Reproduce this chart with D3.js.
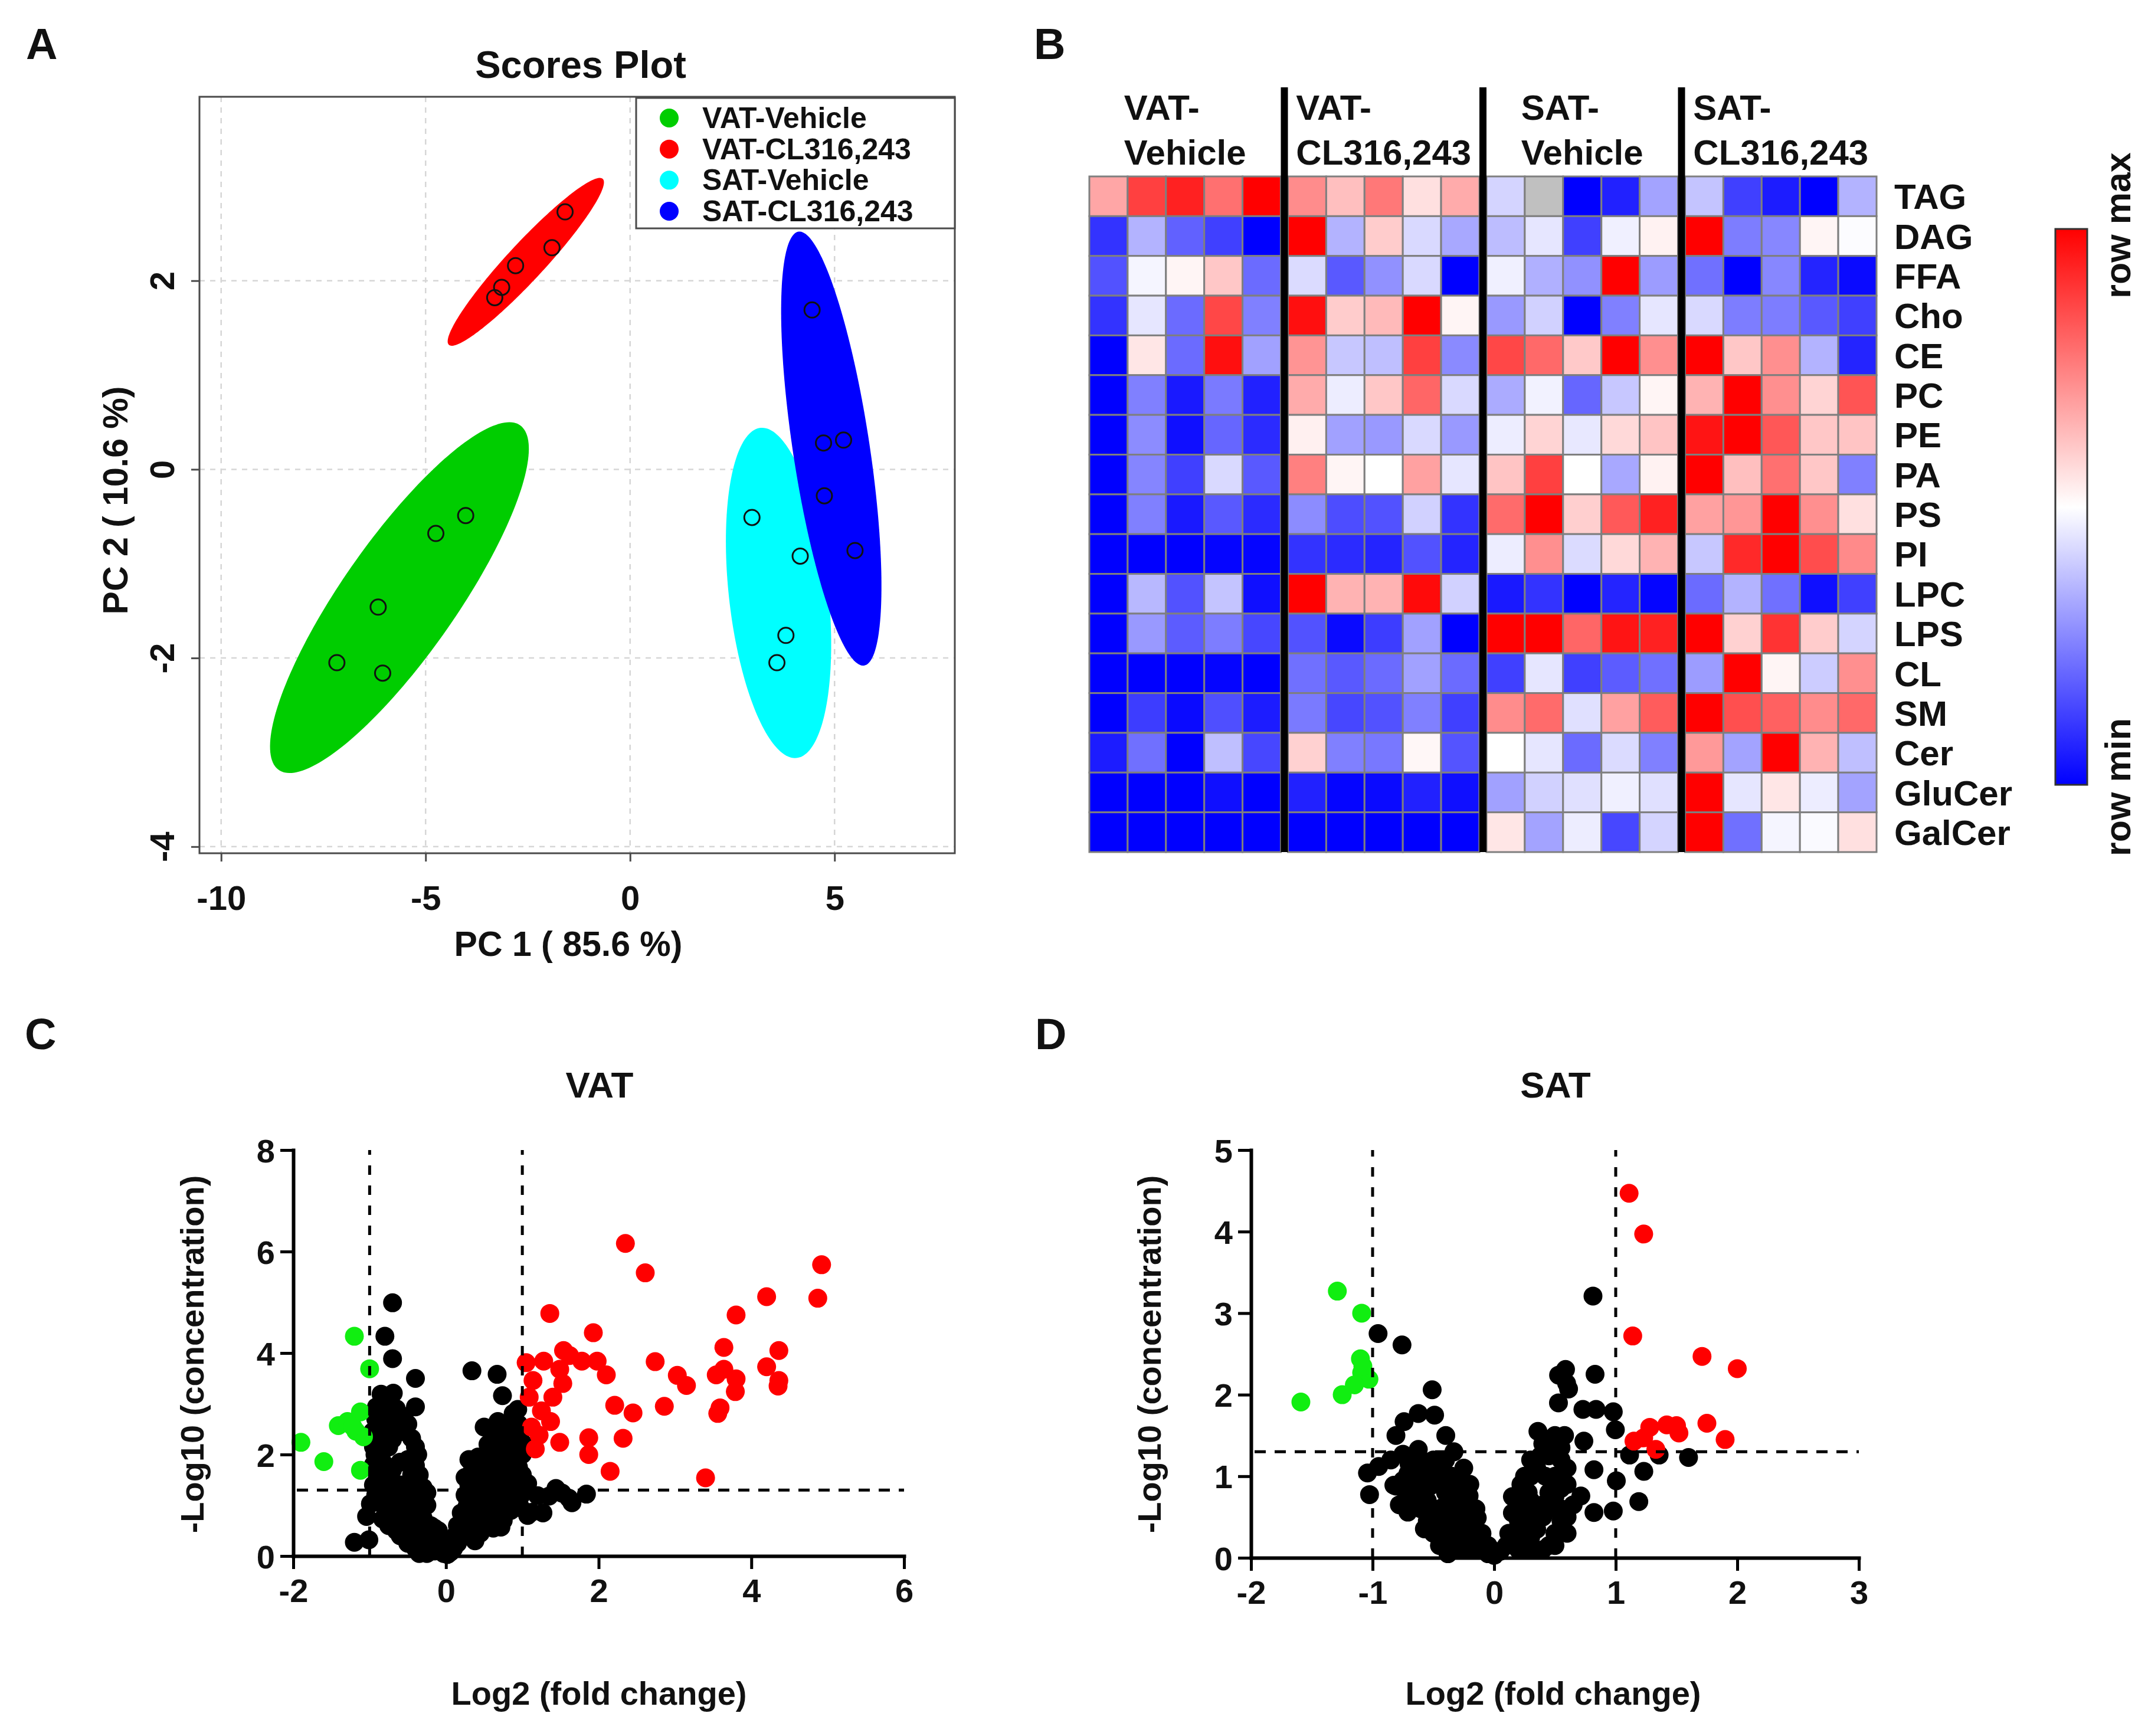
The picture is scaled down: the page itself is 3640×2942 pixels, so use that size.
<!DOCTYPE html>
<html>
<head>
<meta charset="utf-8">
<script src="https://cdn.jsdelivr.net/npm/d3@7"></script>
<style>
body { margin: 0; background: #fff; }
text { font-family: "Liberation Sans", Arial, sans-serif; font-weight: bold; fill: #111; }
.narrow { font-family: "Liberation Sans Narrow", "Arial Narrow", "Liberation Sans", sans-serif; }
</style>
</head>
<body>
<div id="figure"></div>
<script>
// ---- A: PCA scores ----
var pcaGroups = ["VAT-Vehicle", "VAT-CL316,243", "SAT-Vehicle", "SAT-CL316,243"];
var pcaColors = ["#00cd00", "#ff0000", "#00ffff", "#0000ff"];
// [group, PC1, PC2]
var pcaScores = [
    [0, -7.17, -2.05], [0, -6.16, -1.46], [0, -6.05, -2.16], [0, -4.75, -0.68], [0, -4.02, -0.49],
    [1, -3.31, 1.82], [1, -3.14, 1.93], [1, -2.80, 2.16], [1, -1.91, 2.35], [1, -1.59, 2.73],
    [2, 2.98, -0.51], [2, 4.16, -0.92], [2, 3.81, -1.76], [2, 3.59, -2.05],
    [3, 4.45, 1.69], [3, 4.73, 0.28], [3, 5.22, 0.31], [3, 4.75, -0.28], [3, 5.50, -0.86]
];
// confidence ellipses: centre, major half-axis vector, minor half-axis vector (data units)
var pcaEllipses = [
    [0, -5.64, -1.36, 2.94, 1.83, 1.17, -0.33],
    [1, -2.55, 2.20, 1.88, 0.88, 0.34, -0.13],
    [2, 3.63, -1.31, -0.44, 1.75, 1.21, 0.053],
    [3, 4.92, 0.22, -0.80, 2.30, 0.93, 0.056]
];
var pcaTicksX = [-10, -5, 0, 5];
var pcaTicksY = [2, 0, -2, -4];

// ---- B: heatmap ----
var lipidClasses = ["TAG", "DAG", "FFA", "Cho", "CE", "PC", "PE", "PA", "PS", "PI", "LPC", "LPS", "CL", "SM", "Cer", "GluCer", "GalCer"];
var groupLine1 = ["VAT-", "VAT-", "SAT-", "SAT-"];
var groupLine2 = ["Vehicle", "CL316,243", "Vehicle", "CL316,243"];
// row-scaled values, -1 = row min, 1 = row max, null = missing
var heatValues = [
    [0.35, 0.75, 0.87, 0.56, 1.0, 0.45, 0.25, 0.53, 0.12, 0.33, -0.17, null, -1, -0.87, -0.36, -0.23, -0.75, -0.89, -1, -0.3],
    [-0.8, -0.3, -0.62, -0.75, -1, 1.0, -0.3, 0.2, -0.15, -0.34, -0.26, -0.1, -0.75, -0.06, 0.05, 1.0, -0.51, -0.47, 0.04, -0.01],
    [-0.68, -0.04, 0.04, 0.22, -0.58, -0.14, -0.65, -0.43, -0.15, -1, -0.06, -0.31, -0.43, 1.0, -0.39, -0.56, -1, -0.47, -0.86, -0.96],
    [-0.8, -0.1, -0.58, 0.72, -0.5, 0.94, 0.2, 0.27, 1.0, 0.04, -0.4, -0.18, -1, -0.5, -0.1, -0.15, -0.51, -0.51, -0.65, -0.75],
    [-1, 0.1, -0.58, 0.94, -0.37, 0.42, -0.22, -0.25, 0.75, -0.46, 0.72, 0.59, 0.21, 1.0, 0.44, 1.0, 0.22, 0.44, -0.3, -0.86],
    [-1, -0.5, -0.9, -0.52, -0.87, 0.33, -0.07, 0.22, 0.6, -0.15, -0.33, -0.05, -0.6, -0.22, 0.04, 0.3, 1.0, 0.44, 0.17, 0.67],
    [-1, -0.45, -0.94, -0.6, -0.83, 0.06, -0.37, -0.4, -0.15, -0.4, -0.07, 0.17, -0.09, 0.15, 0.23, 0.92, 1.0, 0.66, 0.22, 0.23],
    [-1, -0.48, -0.75, -0.15, -0.65, 0.5, 0.04, 0, 0.37, -0.1, 0.23, 0.75, 0, -0.34, 0.05, 1.0, 0.25, 0.56, 0.22, -0.5],
    [-1, -0.5, -0.9, -0.65, -0.83, -0.45, -0.7, -0.68, -0.18, -0.8, 0.58, 1.0, 0.19, 0.65, 0.87, 0.37, 0.41, 1.0, 0.44, 0.12],
    [-1, -1, -1, -0.98, -0.98, -0.8, -0.83, -0.86, -0.68, -0.86, -0.07, 0.44, -0.14, 0.15, 0.3, -0.22, 0.84, 1.0, 0.7, 0.46],
    [-1, -0.28, -0.68, -0.23, -0.94, 1.0, 0.3, 0.3, 0.96, -0.18, -0.9, -0.8, -1, -0.86, -0.98, -0.58, -0.3, -0.56, -0.94, -0.75],
    [-1, -0.4, -0.64, -0.51, -0.72, -0.68, -0.96, -0.76, -0.37, -1, 1.0, 1.0, 0.6, 0.92, 0.87, 1.0, 0.18, 0.8, 0.2, -0.17],
    [-1, -1, -1, -0.98, -1, -0.56, -0.65, -0.58, -0.37, -0.58, -0.75, -0.1, -0.75, -0.64, -0.56, -0.39, 1.0, 0.04, -0.2, 0.44],
    [-1, -0.76, -0.96, -0.69, -0.89, -0.52, -0.72, -0.68, -0.5, -0.75, 0.45, 0.58, -0.12, 0.37, 0.64, 1.0, 0.69, 0.62, 0.45, 0.59],
    [-0.89, -0.56, -1, -0.25, -0.72, 0.18, -0.5, -0.53, 0.03, -0.67, 0, -0.1, -0.58, -0.14, -0.5, 0.4, -0.36, 1.0, 0.3, -0.25],
    [-1, -1, -1, -0.94, -1, -0.87, -0.98, -0.96, -0.87, -0.94, -0.37, -0.18, -0.12, -0.06, -0.12, 1.0, -0.1, 0.1, -0.07, -0.36],
    [-1, -1, -1, -1, -1, -1, -1, -1, -1, -1, 0.1, -0.36, -0.07, -0.72, -0.17, 1.0, -0.56, -0.04, -0.02, 0.12]
];

// ---- C: VAT volcano [log2 FC, -log10 p] ----
var vatUp = [
    [2.35, 6.16], [2.61, 5.58], [4.92, 5.74], [4.87, 5.08], [4.20, 5.11], [3.80, 4.75], [3.64, 4.11], [4.36, 4.05],
    [4.20, 3.73], [4.35, 3.35], [4.36, 3.46], [3.54, 3.57], [3.64, 3.68], [3.80, 3.49], [3.79, 3.24], [3.59, 2.92],
    [3.56, 2.81], [2.74, 3.83], [3.03, 3.56], [3.15, 3.36], [2.86, 2.95], [2.45, 2.82], [2.21, 2.97], [2.32, 2.32],
    [2.15, 1.67], [3.40, 1.54], [2.10, 3.57], [1.98, 3.84], [1.93, 4.40], [1.87, 2.33], [1.87, 2.00],
    [1.36, 4.78], [1.05, 3.81], [1.28, 3.84], [1.54, 4.05], [1.62, 3.95], [1.78, 3.84], [1.49, 3.68], [1.53, 3.40],
    [1.14, 3.46], [1.40, 3.13], [1.09, 3.13], [1.25, 2.86], [1.12, 2.54], [1.37, 2.65], [1.22, 2.38], [1.17, 2.11],
    [1.49, 2.24]
];
var vatDown = [
    [-1.20, 4.33], [-1.00, 3.69], [-1.90, 2.24], [-1.60, 1.86], [-1.12, 1.69], [-1.41, 2.57], [-1.29, 2.65],
    [-1.12, 2.84], [-1.18, 2.46], [-1.08, 2.35], [-1.22, 2.55]
];
var vatNs = [
    [-0.70, 4.99], [-0.80, 4.33], [-0.70, 3.89], [-0.40, 3.50], [0.34, 3.65], [0.67, 3.58], [0.74, 3.16],
    [-0.40, 2.94], [-0.69, 3.21], [-0.85, 3.19], [-0.91, 2.94], [-0.78, 3.05], [-0.61, 2.67], [-0.92, 2.70],
    [-0.96, 2.45], [-0.88, 2.38], [-0.70, 2.30], [-0.55, 2.45], [-0.45, 2.32], [-0.40, 2.15], [-0.37, 2.00],
    [-0.40, 1.78], [-0.50, 1.90], [-0.95, 2.15], [-0.93, 2.00], [-0.95, 1.80], [-0.80, 1.80], [-0.80, 1.62],
    [-0.72, 1.50], [-0.69, 1.40], [-0.60, 1.32], [-0.55, 1.20], [-0.99, 1.03], [-0.88, 1.08], [-1.04, 0.78],
    [-0.83, 0.73], [-0.66, 0.65], [-1.20, 0.27], [-1.01, 0.32],
    [-0.85, 2.85], [-0.75, 2.75], [-0.65, 2.90], [-0.55, 2.75], [-0.50, 2.60], [-0.65, 2.45], [-0.80, 2.55],
    [-0.75, 2.15], [-0.85, 1.95], [-0.60, 1.85], [-0.70, 1.70], [-0.90, 1.60], [-0.95, 1.40], [-0.85, 1.30],
    [-0.75, 1.20], [-0.70, 1.05], [-0.80, 0.95], [-0.70, 0.85], [-0.45, 1.60], [-0.35, 1.60], [-0.92, 1.20],
    [-0.60, 1.40], [-0.50, 1.42], [-0.40, 1.40], [-0.30, 1.35], [-0.25, 1.25], [-0.25, 1.00], [-0.60, 1.10],
    [-0.65, 0.95], [-0.55, 0.60], [-0.60, 0.40], [-0.50, 0.25], [-0.40, 0.15], [-0.30, 0.10], [-0.20, 0.60],
    [-0.10, 0.50], [-0.05, 0.30], [-0.50, 1.15], [-0.42, 1.05], [-0.35, 0.95], [-0.45, 0.80], [-0.55, 0.90],
    [-0.30, 0.75], [-0.27, 0.62], [-0.40, 0.55], [-0.50, 0.50], [-0.35, 0.40], [-0.20, 0.45], [-0.18, 0.35],
    [-0.25, 0.25], [-0.12, 0.22], [-0.08, 0.12], [-0.03, 0.05], [0.02, 0.03], [-0.15, 0.10], [-0.60, 0.70],
    [-0.45, 0.30], [-0.35, 0.05], [-0.25, 0.05], [-0.15, 0.30], [-0.05, 0.12], [0.00, 0.10], [-0.30, 0.30],
    [-0.40, 0.65], [-0.35, 1.15], [-0.45, 1.25], [-0.15, 0.55], [-0.75, 0.60], [-0.65, 0.50],
    [0.06, 0.08], [0.10, 0.15], [0.15, 0.25], [0.20, 0.38], [0.12, 0.40], [0.25, 0.50], [0.30, 0.65], [0.22, 0.70],
    [0.35, 0.85], [0.28, 1.00], [0.40, 0.95], [0.35, 1.20], [0.45, 1.10], [0.30, 1.40], [0.40, 1.50], [0.50, 1.30],
    [0.55, 1.45], [0.48, 1.70], [0.35, 1.75], [0.30, 1.90], [0.42, 1.95], [0.55, 1.85], [0.60, 1.60], [0.65, 1.40],
    [0.70, 1.20], [0.60, 1.05], [0.50, 0.80], [0.65, 0.90], [0.75, 1.00], [0.80, 1.30], [0.72, 1.65], [0.65, 2.00],
    [0.55, 2.20], [0.58, 2.49], [0.70, 2.30], [0.72, 2.54], [0.80, 2.10], [0.85, 1.80], [0.90, 1.50], [0.95, 1.20],
    [0.85, 0.90], [0.98, 0.95], [0.90, 2.49], [0.88, 2.81], [0.94, 2.89], [0.98, 2.27], [0.95, 2.60], [1.00, 2.00],
    [0.62, 0.55], [0.45, 0.45], [0.38, 0.30], [0.75, 0.70], [0.72, 0.57], [0.50, 2.54],
    [0.15, 0.60], [0.20, 0.85], [0.25, 1.20], [0.25, 1.55], [0.40, 1.25], [0.45, 1.55], [0.50, 1.10], [0.55, 1.00],
    [0.60, 1.25], [0.60, 1.80], [0.65, 1.65], [0.70, 1.85], [0.75, 1.45], [0.78, 2.30], [0.82, 2.50], [0.85, 2.65],
    [0.90, 2.20], [0.92, 1.95], [0.88, 1.60], [0.85, 1.10], [0.70, 0.80], [0.55, 0.70], [0.40, 0.70], [0.30, 0.40],
    [0.10, 0.30], [0.95, 1.75], [0.95, 1.40], [1.00, 1.60], [1.02, 2.20], [0.68, 2.65],
    [1.07, 1.43], [1.07, 0.80], [1.12, 0.86], [1.20, 1.19], [1.27, 0.85], [1.35, 1.18], [1.44, 1.33], [1.52, 1.24],
    [1.61, 1.14], [1.65, 1.05], [1.84, 1.22], [0.98, 1.19]
];

// ---- D: SAT volcano ----
var satUp = [
    [1.11, 4.47], [1.23, 3.97], [1.14, 2.72], [1.71, 2.47], [2.00, 2.32], [1.75, 1.65], [1.90, 1.45], [1.15, 1.43],
    [1.28, 1.60], [1.42, 1.63], [1.50, 1.62], [1.52, 1.53], [1.33, 1.33], [1.23, 1.47]
];
var satDown = [
    [-1.29, 3.27], [-1.09, 3.00], [-1.10, 2.44], [-1.09, 2.27], [-1.03, 2.19], [-1.15, 2.12], [-1.25, 2.00],
    [-1.59, 1.91], [-1.08, 2.35]
];
var satNs = [
    [-0.955, 2.75], [-0.758, 2.61], [-0.51, 2.06], [-0.624, 1.77], [-0.49, 1.75], [-0.741, 1.67], [-0.398, 1.50],
    [-0.808, 1.50], [-0.624, 1.33], [-0.331, 1.30], [-1.042, 1.04], [-1.025, 0.775], [-0.808, 0.88], [-0.71, 1.03],
    [-0.71, 0.56], [-0.574, 0.355], [-0.474, 1.16], [-0.39, 0.93], [-0.206, 0.76], [-0.373, 0.186], [-0.139, 0.49],
    [-0.005, 0.084], [-0.95, 1.12], [-0.85, 1.20], [-0.75, 1.27], [-0.825, 0.89], [-0.72, 0.76],
    [-0.60, 1.2], [-0.55, 1.05], [-0.5, 0.9], [-0.45, 1.1], [-0.4, 0.8], [-0.35, 0.65], [-0.3, 0.5], [-0.25, 0.35],
    [-0.2, 0.25], [-0.15, 0.15], [-0.1, 0.1], [-0.6, 0.8], [-0.5, 0.6], [-0.45, 0.45], [-0.4, 0.3], [-0.35, 0.2],
    [-0.3, 0.1], [-0.55, 0.45], [-0.45, 0.15], [-0.25, 0.6], [-0.3, 0.9], [-0.2, 0.45], [-0.1, 0.3], [-0.05, 0.15],
    [-0.65, 0.95], [-0.55, 0.7], [-0.42, 0.62], [-0.35, 1.0], [-0.27, 0.78], [-0.5, 0.3],
    [-0.6, 1.0], [-0.5, 1.2], [-0.4, 1.2], [-0.35, 0.8], [-0.3, 0.7], [-0.25, 0.5], [-0.2, 0.35], [-0.15, 0.25],
    [-0.45, 0.95], [-0.55, 0.85], [-0.6, 0.6], [-0.5, 0.45], [-0.4, 0.45], [-0.45, 0.3], [-0.35, 0.35],
    [-0.3, 0.3], [-0.25, 0.15], [-0.2, 0.1], [-0.1, 0.2], [-0.05, 0.05], [0.0, 0.03], [-0.38, 0.05],
    [-0.75, 0.95], [-0.7, 1.15], [-0.78, 0.65], [-0.65, 0.7], [-0.25, 1.1], [-0.2, 0.9], [-0.15, 0.6],
    [0.05, 0.08], [0.10, 0.15], [0.12, 0.3], [0.18, 0.2], [0.2, 0.45], [0.25, 0.6], [0.15, 0.55], [0.28, 0.8],
    [0.22, 0.9], [0.3, 1.0], [0.35, 1.1], [0.38, 1.25], [0.4, 1.4], [0.36, 1.55], [0.42, 1.0], [0.45, 0.8],
    [0.5, 0.6], [0.4, 0.5], [0.35, 0.35], [0.3, 0.25], [0.25, 0.15], [0.5, 1.0], [0.55, 1.2], [0.45, 1.25],
    [0.6, 0.9], [0.55, 0.45], [0.6, 0.3], [0.5, 0.3], [0.45, 0.15], [0.65, 0.65], [0.3, 0.45],
    [0.5, 0.15], [0.4, 0.1], [0.3, 0.1], [0.2, 0.1], [0.55, 0.6], [0.6, 0.5], [0.45, 0.6], [0.35, 0.55],
    [0.25, 0.35], [0.2, 0.65], [0.3, 0.7], [0.4, 0.65], [0.5, 0.75], [0.55, 0.85], [0.45, 1.4], [0.5, 1.5],
    [0.55, 1.35], [0.6, 1.1], [0.3, 1.2], [0.25, 1.0], [0.15, 0.75],
    [0.813, 3.21], [0.830, 2.25], [0.587, 2.31], [0.596, 2.14], [0.612, 2.07], [0.529, 1.90], [0.73, 1.82],
    [0.838, 1.82], [0.98, 1.79], [0.997, 1.57], [0.579, 1.50], [0.738, 1.43], [0.495, 1.43], [1.114, 1.26],
    [1.357, 1.26], [1.599, 1.23], [0.821, 1.08], [1.231, 1.06], [1.005, 0.944], [1.19, 0.69], [0.821, 0.556],
    [0.98, 0.573], [0.713, 0.758], [0.53, 2.24]
];

var svg = d3.select("#figure").append("svg")
    .attr("width", 3640)
    .attr("height", 2942);

svg.append("rect").attr("width", 3640).attr("height", 2942).attr("fill", "#fff");

// plain hyphen minus, as in the original figure
var plainFormat = function(d) { return String(d); };

// panel letters
svg.append("text").attr("x", 44).attr("y", 100).style("font-size", "74px").text("A");
svg.append("text").attr("x", 1752).attr("y", 100).style("font-size", "74px").text("B");
svg.append("text").attr("x", 42).attr("y", 1778).style("font-size", "74px").text("C");
svg.append("text").attr("x", 1754).attr("y", 1778).style("font-size", "74px").text("D");

/* ================= A ================= */
var xA = d3.scaleLinear().domain([-10.53, 7.94]).range([338, 1618]),
    yA = d3.scaleLinear().domain([-4.07, 3.95]).range([1446, 164]);

var gA = svg.append("g");

gA.selectAll(".gridx")
    .data(pcaTicksX)
    .enter().append("line")
    .attr("x1", function(d) { return xA(d); })
    .attr("x2", function(d) { return xA(d); })
    .attr("y1", 164).attr("y2", 1446)
    .attr("stroke", "#d6d6d6").attr("stroke-width", 2.5).attr("stroke-dasharray", "9,9");

gA.selectAll(".gridy")
    .data(pcaTicksY)
    .enter().append("line")
    .attr("x1", 338).attr("x2", 1618)
    .attr("y1", function(d) { return yA(d); })
    .attr("y2", function(d) { return yA(d); })
    .attr("stroke", "#d6d6d6").attr("stroke-width", 2.5).attr("stroke-dasharray", "9,9");

var ellipseLine = d3.line().curve(d3.curveLinearClosed);

gA.selectAll(".ellipse")
    .data(pcaEllipses)
    .enter().append("path")
    .attr("fill", function(d) { return pcaColors[d[0]]; })
    .attr("d", function(d) {
        var pts = d3.range(0, 360, 2).map(function(a) {
            var t = a * Math.PI / 180;
            return [xA(d[1] + d[3] * Math.cos(t) + d[5] * Math.sin(t)),
                    yA(d[2] + d[4] * Math.cos(t) + d[6] * Math.sin(t))];
        });
        return ellipseLine(pts);
    });

gA.selectAll(".score")
    .data(pcaScores)
    .enter().append("circle")
    .attr("cx", function(d) { return xA(d[1]); })
    .attr("cy", function(d) { return yA(d[2]); })
    .attr("r", 13)
    .attr("fill", "none")
    .attr("stroke", "#111")
    .attr("stroke-width", 3);

gA.append("rect")
    .attr("x", 338).attr("y", 164).attr("width", 1280).attr("height", 1282)
    .attr("fill", "none").attr("stroke", "#4a4a4a").attr("stroke-width", 3);

var axA = gA.append("g")
    .attr("transform", "translate(0,1446)")
    .call(d3.axisBottom(xA).tickValues(pcaTicksX).tickFormat(plainFormat).tickSize(14).tickSizeOuter(0));
axA.select(".domain").remove();
axA.selectAll("line").attr("stroke", "#4a4a4a").attr("stroke-width", 3);
axA.selectAll("text").attr("y", 96).attr("dy", 0)
    .style("font-size", "58px").style("font-family", null).attr("fill", "#111");

var ayA = gA.append("g")
    .attr("transform", "translate(338,0)")
    .call(d3.axisLeft(yA).tickValues(pcaTicksY).tickFormat(plainFormat).tickSize(14).tickSizeOuter(0));
ayA.select(".domain").remove();
ayA.selectAll("line").attr("stroke", "#4a4a4a").attr("stroke-width", 3);
ayA.selectAll("text")
    .attr("x", 0).attr("y", 0).attr("dy", 0)
    .attr("text-anchor", "middle")
    .attr("transform", "translate(-43,0) rotate(-90)")
    .style("font-size", "58px").style("font-family", null).attr("fill", "#111");

gA.append("text").attr("x", 984).attr("y", 132).attr("text-anchor", "middle")
    .style("font-size", "65px").text("Scores Plot");
gA.append("text").attr("x", 963).attr("y", 1620).attr("text-anchor", "middle")
    .style("font-size", "59px").text("PC 1 ( 85.6 %)");
gA.append("text").attr("transform", "translate(216,848) rotate(-90)").attr("text-anchor", "middle")
    .style("font-size", "59px").text("PC 2 ( 10.6 %)");

// legend
gA.append("rect")
    .attr("x", 1078).attr("y", 166).attr("width", 540).attr("height", 221)
    .attr("fill", "#fff").attr("stroke", "#4a4a4a").attr("stroke-width", 3);
var legendY = d3.scalePoint().domain(pcaGroups).range([200, 358]);
var leg = gA.selectAll(".legend")
    .data(pcaGroups)
    .enter().append("g")
    .attr("transform", function(d) { return "translate(1134," + legendY(d) + ")"; });
leg.append("circle").attr("r", 16).attr("fill", function(d, i) { return pcaColors[i]; });
leg.append("text").attr("x", 56).attr("y", 17).style("font-size", "50px").text(function(d) { return d; });

/* ================= B ================= */
var cellW = 64.9, groupGap = 12, heatLeft = 1846;
var heatColor = d3.scaleLinear().domain([-1, 0, 1]).range(["#0000ff", "#ffffff", "#ff0000"]);
var xB = d3.scaleBand().domain(d3.range(20)).range([0, 20 * cellW]);
var yB = d3.scaleBand().domain(lipidClasses).range([299, 1444]);
function colX(i) { return heatLeft + xB(i) + Math.floor(i / 5) * groupGap; }

var gB = svg.append("g");
var cells = [];
heatValues.forEach(function(row, r) {
    row.forEach(function(v, c) { cells.push({row: lipidClasses[r], col: c, v: v}); });
});

gB.selectAll(".cell")
    .data(cells)
    .enter().append("rect")
    .attr("x", function(d) { return colX(d.col); })
    .attr("y", function(d) { return yB(d.row); })
    .attr("width", xB.bandwidth())
    .attr("height", yB.bandwidth())
    .attr("fill", function(d) { return d.v === null ? "#c0c0c0" : heatColor(d.v); })
    .attr("stroke", "#7f7f7f")
    .attr("stroke-width", 3);

gB.selectAll(".sep")
    .data([1, 2, 3])
    .enter().append("rect")
    .attr("x", function(g) { return heatLeft + xB(g * 5) + (g - 1) * groupGap; })
    .attr("y", 148)
    .attr("width", groupGap)
    .attr("height", 1444 - 148)
    .attr("fill", "#000");

gB.selectAll(".rowlab")
    .data(lipidClasses)
    .enter().append("text")
    .attr("x", 3210)
    .attr("y", function(d) { return yB(d) + yB.bandwidth() / 2; })
    .attr("dy", "0.36em")
    .style("font-size", "60px")
    .text(function(d) { return d; });

groupLine2.forEach(function(label, g) {
    var x0 = colX(g * 5), x1 = colX(g * 5 + 4) + xB.bandwidth();
    var cx = (x0 + x1) / 2;
    var t2 = gB.append("text").attr("x", cx).attr("y", 279).attr("text-anchor", "middle")
        .style("font-size", "60px").text(label);
    var w = t2.node().getComputedTextLength();
    gB.append("text").attr("x", cx - w / 2).attr("y", 203)
        .style("font-size", "60px").text(groupLine1[g]);
});

// colour key
var grad = svg.append("defs").append("linearGradient")
    .attr("id", "rowScale").attr("x1", 0).attr("y1", 0).attr("x2", 0).attr("y2", 1);
grad.selectAll("stop")
    .data([[0, "#ff0000"], [0.5, "#ffffff"], [1, "#0000ff"]])
    .enter().append("stop")
    .attr("offset", function(d) { return d[0]; })
    .attr("stop-color", function(d) { return d[1]; });
gB.append("rect")
    .attr("x", 3483).attr("y", 388).attr("width", 54).attr("height", 942)
    .attr("fill", "url(#rowScale)").attr("stroke", "#333").attr("stroke-width", 3);
gB.append("text").attr("class", "narrow").attr("transform", "translate(3610,382) rotate(-90)")
    .attr("text-anchor", "middle").style("font-size", "61px").text("row max");
gB.append("text").attr("class", "narrow").attr("transform", "translate(3610,1334) rotate(-90)")
    .attr("text-anchor", "middle").style("font-size", "61px").text("row min");

/* ================= C & D ================= */
function volcano(cfg) {
    var x = d3.scaleLinear().domain(cfg.xDomain).range(cfg.xRange),
        y = d3.scaleLinear().domain(cfg.yDomain).range([cfg.y0, cfg.yTop]);
    var g = svg.append("g");

    var dot = function(data, color) {
        g.selectAll(null)
            .data(data)
            .enter().append("circle")
            .attr("cx", function(d) { return x(d[0]); })
            .attr("cy", function(d) { return y(d[1]); })
            .attr("r", 16)
            .attr("fill", color);
    };
    dot(cfg.ns, "#000");
    dot(cfg.down, "#11ee11");
    dot(cfg.up, "#ff0000");

    // thresholds: |log2FC| = 1 and p = 0.05
    g.selectAll(".vthr")
        .data([-1, 1])
        .enter().append("line")
        .attr("x1", function(d) { return x(d); })
        .attr("x2", function(d) { return x(d); })
        .attr("y1", y(0)).attr("y2", y(cfg.yDomain[1]))
        .attr("stroke", "#000").attr("stroke-width", 5).attr("stroke-dasharray", "16,18");
    g.append("line")
        .attr("x1", x(cfg.xDomain[0]) + 6).attr("x2", x(cfg.xDomain[1]))
        .attr("y1", y(1.3)).attr("y2", y(1.3))
        .attr("stroke", "#000").attr("stroke-width", 5).attr("stroke-dasharray", "19,15");

    var ax = g.append("g")
        .attr("transform", "translate(0," + cfg.y0 + ")")
        .call(d3.axisBottom(x).tickValues(cfg.xTicks).tickFormat(plainFormat).tickSize(22).tickSizeOuter(0));
    var ay = g.append("g")
        .attr("transform", "translate(" + cfg.xRange[0] + ",0)")
        .call(d3.axisLeft(y).tickValues(cfg.yTicks).tickFormat(plainFormat).tickSize(22).tickSizeOuter(0));
    [ax, ay].forEach(function(a) {
        a.select(".domain").attr("stroke", "#000").attr("stroke-width", 6).attr("stroke-linecap", "square");
        a.selectAll("line").attr("stroke", "#000").attr("stroke-width", 5);
        a.selectAll("text").attr("class", "narrow").style("font-family", null)
            .style("font-size", "56px").attr("fill", "#111");
    });
    ax.selectAll("text").attr("y", 78).attr("dy", 0);
    ay.selectAll("text").attr("x", -31).attr("dy", "0.36em");

    g.append("text").attr("x", cfg.titleX).attr("y", 1860).attr("text-anchor", "middle")
        .style("font-size", "62px").text(cfg.title);
    g.append("text").attr("x", cfg.xLabelX).attr("y", 2889).attr("text-anchor", "middle")
        .style("font-size", "56px").text("Log2 (fold change)");
    g.append("text").attr("transform", "translate(" + cfg.yLabelX + ",2295) rotate(-90)")
        .attr("text-anchor", "middle")
        .style("font-size", "56px").text("-Log10 (concentration)");
}

volcano({
    xDomain: [-2, 6], xRange: [497, 1532], yDomain: [0, 8], y0: 2637, yTop: 1949,
    xTicks: [-2, 0, 2, 4, 6], yTicks: [0, 2, 4, 6, 8],
    ns: vatNs, down: vatDown, up: vatUp,
    title: "VAT", titleX: 1016, xLabelX: 1015, yLabelX: 345
});

volcano({
    xDomain: [-2, 3], xRange: [2120, 3150], yDomain: [0, 5], y0: 2640, yTop: 1949,
    xTicks: [-2, -1, 0, 1, 2, 3], yTicks: [0, 1, 2, 3, 4, 5],
    ns: satNs, down: satDown, up: satUp,
    title: "SAT", titleX: 2636, xLabelX: 2632, yLabelX: 1967
});
</script>
</body>
</html>
